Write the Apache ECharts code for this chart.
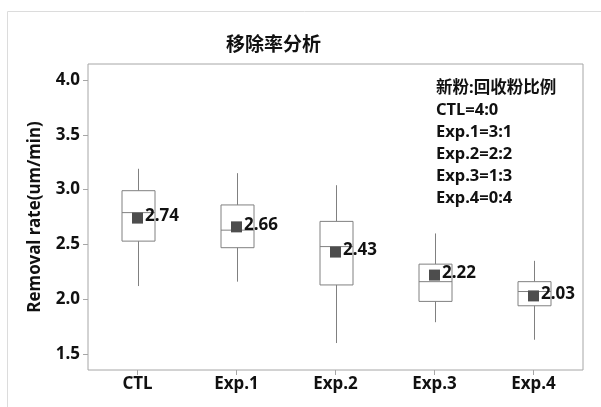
<!DOCTYPE html>
<html>
<head>
<meta charset="utf-8">
<script src="https://cdn.jsdelivr.net/npm/echarts@6/dist/echarts.min.js"></script>
<style>
  html, body { margin: 0; padding: 0; background: #fff; }
  #chart { width: 601px; height: 407px; }
</style>
</head>
<body>
<div id="chart"></div>
<script>
// 数据
var categories = ['CTL', 'Exp.1', 'Exp.2', 'Exp.3', 'Exp.4'];
// [low, Q1, median, Q3, high]
var boxLow    = [2.12, 2.16, 1.60, 1.79, 1.63];
var boxQ1     = [2.53, 2.47, 2.13, 1.98, 1.94];
var boxMedian = [2.79, 2.63, 2.48, 2.16, 2.07];
var boxQ3     = [2.99, 2.86, 2.71, 2.32, 2.16];
var boxHigh   = [3.19, 3.15, 3.04, 2.60, 2.35];
var means     = [2.74, 2.66, 2.43, 2.22, 2.03];
var yTicks    = [1.5, 2.0, 2.5, 3.0, 3.5, 4.0];
var noteLines = ['新粉:回收粉比例', 'CTL=4:0', 'Exp.1=3:1', 'Exp.2=2:2', 'Exp.3=1:3', 'Exp.4=0:4'];

var font = '"Noto Sans", "Noto Sans CJK SC", sans-serif';
var chart = echarts.init(document.getElementById('chart'));

var boxData = categories.map(function (c, i) {
    return [i, boxLow[i], boxQ1[i], boxMedian[i], boxQ3[i], boxHigh[i]];
});

function renderBox(params, api) {
    var idx = api.value(0);
    var pLow = api.coord([idx, api.value(1)]);
    var pQ1 = api.coord([idx, api.value(2)]);
    var pMed = api.coord([idx, api.value(3)]);
    var pQ3 = api.coord([idx, api.value(4)]);
    var pHigh = api.coord([idx, api.value(5)]);
    var half = 16.5;
    var x = Math.round(pMed[0]) + 0.5;
    var st = { stroke: '#808080', lineWidth: 1, fill: null };
    return {
        type: 'group',
        children: [
            { type: 'line', shape: { x1: x, y1: pHigh[1], x2: x, y2: pQ3[1] }, style: st },
            { type: 'rect', shape: { x: x - half, y: pQ3[1], width: half * 2, height: pQ1[1] - pQ3[1] }, style: { stroke: '#808080', lineWidth: 1, fill: '#fff' } },
            { type: 'line', shape: { x1: x - half, y1: pMed[1], x2: x + half, y2: pMed[1] }, style: st },
            { type: 'line', shape: { x1: x, y1: pQ1[1], x2: x, y2: pLow[1] }, style: st }
        ]
    };
}

var option = {
    animation: false,
    title: {
        text: '移除率分析',
        left: 221,
        top: 31,
        textStyle: { fontFamily: font, fontSize: 19, fontWeight: 'bold', color: '#111' }
    },
    graphic: [
        {
            type: 'rect',
            shape: { x: 7.5, y: 11.5, width: 700, height: 600 },
            style: { stroke: '#dcdcdc', fill: null, lineWidth: 1 },
            silent: true
        },
        {
            type: 'text',
            left: 436,
            top: 77,
            style: {
                text: noteLines.join('\n'),
                font: 'bold 16.5px ' + font,
                lineHeight: 22,
                fill: '#111'
            }
        }
    ],
    grid: {
        left: 88,
        right: 18,
        top: 64,
        bottom: 37,
        show: true,
        borderColor: '#a6a6a6',
        borderWidth: 1,
        backgroundColor: '#fff'
    },
    xAxis: {
        type: 'category',
        data: categories,
        boundaryGap: true,
        axisLine: { show: false },
        axisTick: { show: true, alignWithLabel: true, length: 5, lineStyle: { color: '#a6a6a6' } },
        axisLabel: { margin: 6, fontFamily: font, fontSize: 17, fontWeight: 'bold', color: '#111' },
        splitLine: { show: false }
    },
    yAxis: {
        type: 'value',
        min: 1.354,
        max: 4.146,
        name: 'Removal rate(um/min)',
        nameLocation: 'middle',
        nameGap: 44,
        nameTextStyle: { fontFamily: font, fontSize: 17, fontWeight: 'bold', color: '#111' },
        axisLine: { show: false },
        axisTick: { show: true, length: 5, customValues: yTicks, lineStyle: { color: '#a6a6a6' } },
        axisLabel: {
            customValues: yTicks,
            margin: 8,
            fontFamily: font, fontSize: 17, fontWeight: 'bold', color: '#111',
            formatter: function (v) { return v.toFixed(1); }
        },
        splitLine: { show: false }
    },
    series: [
        {
            type: 'custom',
            renderItem: renderBox,
            data: boxData,
            encode: { x: 0, y: [1, 2, 3, 4, 5] },
            z: 2
        },
        {
            type: 'scatter',
            data: means.map(function (m, i) { return [i, m]; }),
            symbol: 'rect',
            symbolSize: 11,
            itemStyle: { color: '#4d4d4d', opacity: 1 },
            label: {
                show: true,
                position: 'right',
                distance: 2,
                offset: [0, -2],
                fontFamily: font, fontSize: 17, fontWeight: 'bold', color: '#111',
                formatter: function (p) { return p.value[1].toFixed(2); }
            },
            z: 3
        }
    ]
};

chart.setOption(option);
</script>
</body>
</html>
